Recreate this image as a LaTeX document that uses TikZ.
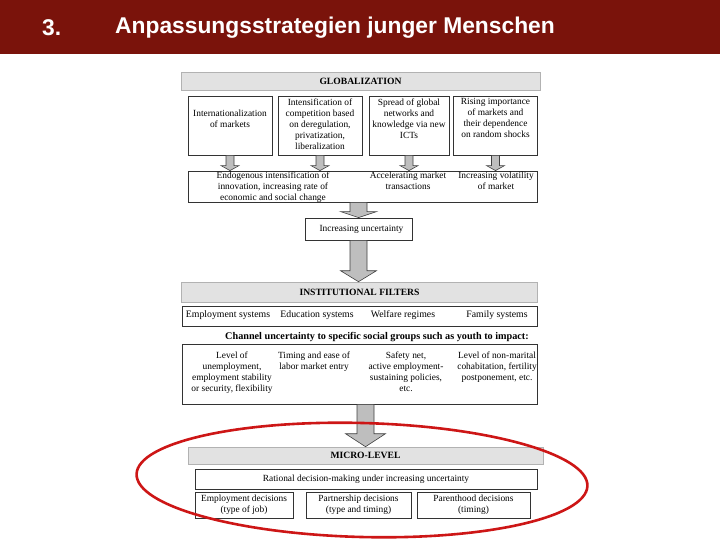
\documentclass[tikz,border=0pt]{standalone}
\usepackage{fontspec}
\setmainfont{Liberation Serif}
\newfontfamily\headfont{Liberation Sans}
\usetikzlibrary{calc}

\definecolor{headred}{RGB}{122,19,11}
\definecolor{barfill}{RGB}{226,226,226}
\definecolor{arrfill}{RGB}{190,190,190}
\definecolor{ringred}{RGB}{205,22,22}

% block arrow: from, to, half shaft, half head, head length
\newcommand{\blockarr}[5]{%
  \draw[blockarrow] let \p1=(#1), \p2=(#2) in
    (\x1-#3,\y1) -- (\x1-#3,\y2+#5) -- (\x1-#4,\y2+#5) -- (\x1,\y2)
    -- (\x1+#4,\y2+#5) -- (\x1+#3,\y2+#5) -- (\x1+#3,\y1) -- cycle;}

\begin{document}
\begin{tikzpicture}[
    x=1pt, y=-1pt,
    font=\fontsize{9.4}{11}\selectfont,
    box/.style={draw=black!80, line width=0.8pt, align=center, inner sep=1pt, fill=white},
    bar/.style={draw=black!30, line width=0.6pt, fill=barfill, inner sep=0pt, font=\bfseries\fontsize{9.6}{10}\selectfont},
    txt/.style={align=center, inner sep=0pt},
    blockarrow/.style={draw=black!75, fill=arrfill, line width=0.6pt},
    headtxt/.style={text=white, anchor=west, inner sep=0pt, font=\headfont\bfseries\fontsize{22.8}{26}\selectfont}
]
\useasboundingbox (0,0) rectangle (720,540);

% header
\node[fill=headred, anchor=north west, minimum width=720pt, minimum height=54pt, inner sep=0pt] (head) at (0,0) {};
\node[headtxt] (num) at (42,28) {3.};
\node[headtxt] (title) at (115,28) {Anpassungsstrategien junger Menschen};

% globalization
\node[bar, minimum width=359pt, minimum height=18pt] (glob) at (360.5,81) {GLOBALIZATION};
\node[box, minimum width=84pt, minimum height=59pt] (g1) at (230,125.5) {};
\node[box, minimum width=84pt, minimum height=59pt] (g2) at (320,125.5) {};
\node[box, minimum width=80pt, minimum height=59pt] (g3) at (409,125.5) {};
\node[box, minimum width=84pt, minimum height=59pt] (g4) at (495.5,125.5) {};
\node[txt, anchor=north] (intl) at (230,110) {Internationalization\\of markets};
\node[txt, anchor=north] (compet) at (320,98.5) {Intensification of\\competition based\\on deregulation,\\privatization,\\liberalization};
\node[txt, anchor=north] (netw) at (409,98.5) {Spread of global\\networks and\\knowledge via new\\ICTs};
\node[txt, anchor=north] (shocks) at (495.5,98.5) {Rising importance\\of markets and\\their dependence\\on random shocks};

\node[box, minimum width=349pt, minimum height=31pt] (row) at (362.5,186.5) {};
\node[txt, anchor=north] (innov) at (273,172) {Endogenous intensification of\\innovation, increasing rate of\\economic and social change};
\node[txt, anchor=north] (accel) at (408,172) {Accelerating market\\transactions};
\node[txt, anchor=north] (volat) at (496,172) {Increasing volatility\\of market};

\blockarr{g1.south}{row.north}{4pt}{9pt}{5pt}
\blockarr{g2.south}{row.north}{4pt}{9pt}{5pt}
\blockarr{g3.south}{row.north}{4pt}{9pt}{5pt}
\blockarr{g4.south}{row.north}{4pt}{9pt}{5pt}

\node[box, minimum width=107pt, minimum height=22pt] (uncert) at (358.5,229) {\hspace*{6pt}Increasing uncertainty};
\blockarr{uncert.north |- row.south}{uncert.north}{8.5pt}{18pt}{6pt}

% institutional filters
\node[bar, minimum width=356pt, minimum height=20pt] (inst) at (359.5,292) {INSTITUTIONAL FILTERS};
\blockarr{uncert.south}{inst.north}{8.5pt}{18pt}{11pt}
\node[box, minimum width=355pt, minimum height=20pt] (systems) at (359.5,316) {};
\node[txt, font=\fontsize{9.8}{11}\selectfont] (employ) at (228,315.5) {Employment systems};
\node[txt, font=\fontsize{9.8}{11}\selectfont] (educ) at (317,315.5) {Education systems};
\node[txt, font=\fontsize{9.8}{11}\selectfont] (welfare) at (403,315.5) {Welfare regimes};
\node[txt, font=\fontsize{9.8}{11}\selectfont] (family) at (497,315.5) {Family systems};

\node[txt, font=\bfseries\fontsize{10.2}{11}\selectfont] (channel) at (377,337) {Channel uncertainty to specific social groups such as youth to impact:};
\node[box, minimum width=355pt, minimum height=60pt] (impact) at (359.5,374) {};
\node[txt, anchor=north] (unemp) at (232,351.5) {Level of\\unemployment,\\employment stability\\or security, flexibility};
\node[txt, anchor=north] (entry) at (314,351.5) {Timing and ease of\\labor market entry};
\node[txt, anchor=north] (safety) at (406,351.5) {Safety net,\\active employment-\\sustaining policies,\\etc.};
\node[txt, anchor=north] (cohab) at (497,351.5) {Level of non-marital\\cohabitation, fertility\\postponement, etc.};

% micro level
\node[bar, minimum width=355pt, minimum height=17pt] (micro) at (365.5,455.5) {MICRO-LEVEL};
\blockarr{micro.north |- impact.south}{micro.north}{8.5pt}{20pt}{13pt}
\node[box, minimum width=342pt, minimum height=20pt] (rational) at (366,479) {Rational decision-making under increasing uncertainty};
\node[box, minimum width=98pt, minimum height=26pt] (d1) at (244,505) {Employment decisions\\(type of job)};
\node[box, minimum width=105pt, minimum height=26pt] (d2) at (358.5,505) {Partnership decisions\\(type and timing)};
\node[box, minimum width=113pt, minimum height=26pt] (d3) at (473.5,505) {Parenthood decisions\\(timing)};

% red ring
\draw[ringred, line width=2.6pt, rotate around={-1.5:(362,480)}] (362,480) ellipse (225.5pt and 57pt);
\end{tikzpicture}
\end{document}
